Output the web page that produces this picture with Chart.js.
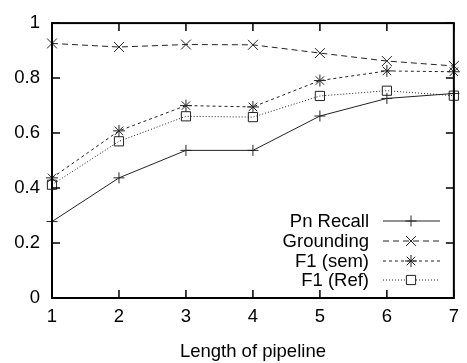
<!DOCTYPE html>
<html>
<head>
<meta charset="utf-8">
<script src="https://cdn.jsdelivr.net/npm/chart.js@4/dist/chart.umd.min.js"></script>
<style>
html,body{margin:0;padding:0;background:#fff;}
#wrap{width:467px;height:363px;position:relative;}
</style>
</head>
<body>
<div id="wrap"><canvas id="c" width="467" height="363"></canvas></div>
<script>
const categories = ["1","2","3","4","5","6","7"];
const yTicks = [0, 0.2, 0.4, 0.6, 0.8, 1];
const pnRecall  = [0.278, 0.437, 0.537, 0.537, 0.662, 0.726, 0.744];
const grounding = [0.926, 0.913, 0.922, 0.921, 0.891, 0.862, 0.844];
const f1Sem     = [0.437, 0.608, 0.700, 0.695, 0.791, 0.826, 0.823];
const f1Ref     = [0.412, 0.570, 0.661, 0.658, 0.735, 0.754, 0.736];
const seriesNames = ["Pn Recall", "Grounding", "F1 (sem)", "F1 (Ref)"];
const xTitle = "Length of pipeline";

const FONT = "'Liberation Sans', Arial, Helvetica, sans-serif";
const FSIZE = 18.5;

const styles = [
  {dash: [], style: 'cross', r: 5.5},
  {dash: [6, 4], style: 'crossRot', r: 7},
  {dash: [3, 3], style: 'star', r: 6},
  {dash: [1, 2], style: 'rect', r: 6.5}
];
const seriesData = [pnRecall, grounding, f1Sem, f1Ref];

const datasets = seriesData.map((d, i) => ({
  label: seriesNames[i],
  data: d,
  borderColor: '#222',
  backgroundColor: 'rgba(0,0,0,0)',
  borderWidth: 1,
  borderDash: styles[i].dash,
  pointStyle: styles[i].style,
  pointRadius: styles[i].r,
  pointBorderColor: '#222',
  pointBackgroundColor: 'rgba(0,0,0,0)',
  pointBorderWidth: 1,
  tension: 0,
  clip: false
}));

const framePlugin = {
  id: 'frame',
  afterDatasetsDraw(chart) {
    const ctx = chart.ctx;
    const a = chart.chartArea;
    const xs = chart.scales.x, ys = chart.scales.y;
    ctx.save();
    ctx.strokeStyle = '#000';
    ctx.lineWidth = 2;
    ctx.setLineDash([]);
    ctx.strokeRect(a.left, a.top, a.right - a.left, a.bottom - a.top);
    ctx.lineWidth = 1.5;
    const L = 8;
    ctx.beginPath();
    for (let i = 0; i < categories.length; i++) {
      const x = xs.getPixelForValue(i);
      ctx.moveTo(x, a.bottom); ctx.lineTo(x, a.bottom - L);
      ctx.moveTo(x, a.top); ctx.lineTo(x, a.top + L);
    }
    yTicks.forEach(v => {
      const y = ys.getPixelForValue(v);
      ctx.moveTo(a.left, y); ctx.lineTo(a.left + L, y);
      ctx.moveTo(a.right, y); ctx.lineTo(a.right - L, y);
    });
    ctx.stroke();

    // legend (gnuplot style)
    const textRight = 369, lineL = 383, lineR = 440, mx = 411;
    const rowY = [221, 241, 261, 280];
    ctx.font = FSIZE + 'px ' + FONT;
    ctx.fillStyle = '#000';
    ctx.textAlign = 'right';
    ctx.textBaseline = 'middle';
    seriesNames.forEach((n, i) => {
      const y = rowY[i];
      ctx.fillStyle = '#000';
      ctx.fillText(n, textRight, y + 1);
      ctx.save();
      ctx.strokeStyle = '#222';
      ctx.lineWidth = 1;
      ctx.setLineDash(styles[i].dash);
      ctx.beginPath();
      ctx.moveTo(lineL, y); ctx.lineTo(lineR, y);
      ctx.stroke();
      ctx.setLineDash([]);
      if (styles[i].style === 'rect') {
        ctx.fillStyle = '#fff';
      } else {
        ctx.fillStyle = 'rgba(0,0,0,0)';
      }
      Chart.helpers.drawPoint(ctx, {
        pointStyle: styles[i].style, radius: styles[i].r, borderWidth: 1, rotation: 0
      }, mx, y);
      ctx.restore();
    });
    ctx.restore();
  }
};

new Chart(document.getElementById('c'), {
  type: 'line',
  data: { labels: categories, datasets },
  options: {
    responsive: false,
    animation: false,
    devicePixelRatio: 1,
    layout: { padding: { top: 14, right: 4, left: 0, bottom: 0 } },
    plugins: { legend: { display: false }, tooltip: { enabled: false } },
    scales: {
      x: {
        type: 'category',
        offset: false,
        grid: { display: false, drawTicks: false },
        border: { display: false },
        ticks: { color: '#000', font: { family: FONT, size: FSIZE }, padding: 8, maxRotation: 0, autoSkip: false },
        title: { display: true, text: xTitle, color: '#000', font: { family: FONT, size: FSIZE }, padding: { top: 5, bottom: 0 } },
        afterFit(s) { s.height = 65; }
      },
      y: {
        min: 0, max: 1,
        afterBuildTicks(s) { s.ticks = yTicks.map(v => ({ value: v })); },
        grid: { display: false, drawTicks: false },
        border: { display: false },
        ticks: {
          color: '#000', font: { family: FONT, size: FSIZE }, padding: 12,
          callback: v => String(v)
        },
        afterFit(s) { s.width = 52; }
      }
    }
  },
  plugins: [framePlugin]
});
</script>
</body>
</html>
